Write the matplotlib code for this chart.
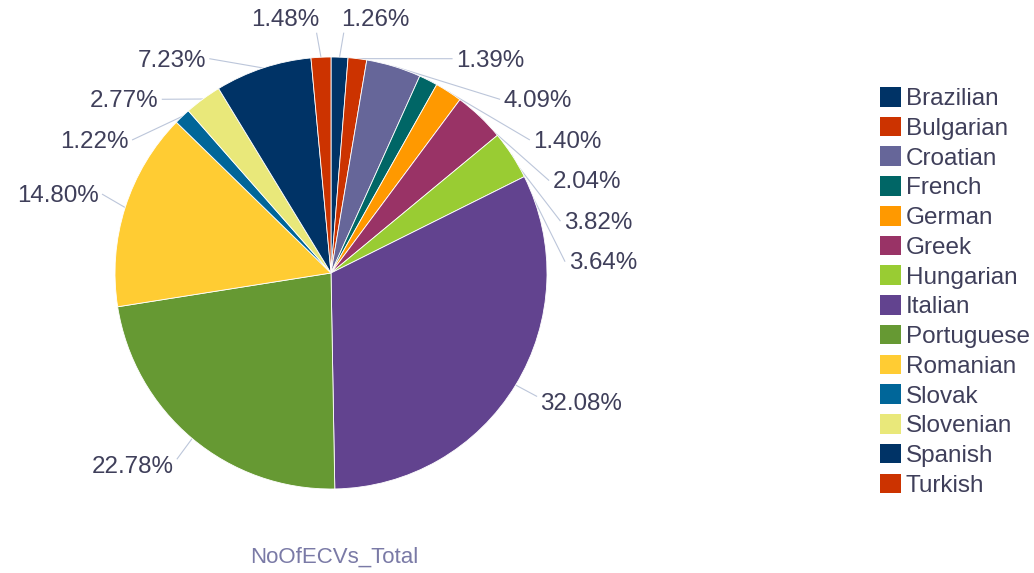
import numpy as np
import matplotlib
matplotlib.use("Agg")
import matplotlib.pyplot as plt
from matplotlib.patches import Patch

# data
categories = ["Brazilian", "Bulgarian", "Croatian", "French", "German", "Greek",
              "Hungarian", "Italian", "Portuguese", "Romanian", "Slovak",
              "Slovenian", "Spanish", "Turkish"]
shares = [1.26, 1.39, 4.09, 1.40, 2.04, 3.82, 3.64, 32.08, 22.78, 14.80,
          1.22, 2.77, 7.23, 1.48]
colors = ["#003366", "#cc3300", "#666699", "#006666", "#ff9900", "#993366",
          "#99cc33", "#62438f", "#669933", "#ffcc33", "#006699", "#e9e87a",
          "#003366", "#cc3300"]
series_name = "NoOfECVs_Total"

W, H = 1034, 573
TEXT = "#3f3f5a"
LINE = "#bcc6da"
plt.rcParams["font.family"] = ["Liberation Sans", "DejaVu Sans"]

fig = plt.figure(figsize=(W / 100, H / 100), dpi=100)
ax = fig.add_axes([0, 0, 1, 1])

# work in pixel coordinates, y pointing down
cx, cy, R = 331, 273, 216
ax.pie(shares, colors=colors, center=(cx, cy), radius=R, startangle=270,
       counterclock=True, frame=True,
       wedgeprops=dict(edgecolor="white", linewidth=0.6))
ax.set_xlim(0, W)
ax.set_ylim(H, 0)
ax.set_aspect("auto")
ax.axis("off")

# label placement: natural spot on a circle, then stacked to avoid overlap
vals = np.array(shares)
cum = np.cumsum(vals) - vals / 2
ang = np.radians(cum / vals.sum() * 360)  # clockwise from 12 o'clock
RY, GAP = 253, 40.5
EX, EY = 238, 249.5   # ellipse for labels pushed out of their natural spot
nat_y = cy - RY * np.cos(ang)
lab_y = nat_y.copy()
for side in (ang < np.pi, ang >= np.pi):
    idx = np.where(side)[0]
    idx = idx[np.argsort(nat_y[idx])]
    prev = -1e9
    for i in idx:
        lab_y[i] = max(nat_y[i], prev + GAP)
        prev = lab_y[i]

for i, a in enumerate(ang):
    s = 1 if a < np.pi else -1
    dy = lab_y[i] - cy
    if lab_y[i] == nat_y[i]:
        dx = abs(244 * np.sin(a))
    else:
        dx = EX * np.sqrt(max(1 - (dy / EY) ** 2, 0))
    lx = cx + s * dx
    ex, ey = cx + R * np.sin(a), cy - R * np.cos(a)
    if dx < 30:
        tx, ty = lx + s * 3, lab_y[i] + 13
    elif dy > 0:
        tx, ty = lx - s * 3, lab_y[i] - 8
    else:
        tx, ty = lx - s * 4, lab_y[i] - 2
    ax.plot([ex, tx], [ey, ty], color=LINE, lw=0.8, zorder=0)
    ax.text(lx, lab_y[i], f"{shares[i]:.2f}%", ha="left" if s > 0 else "right",
            va="center", fontsize=17.4, color=TEXT)

handles = [Patch(facecolor=c, edgecolor="none") for c in colors]
fig.legend(handles, categories, loc="upper left",
           bbox_to_anchor=(880 / W, 1 - 87 / H), frameon=False,
           fontsize=17.5, labelcolor=TEXT, handlelength=0.86, handleheight=0.86,
           handletextpad=0.2, labelspacing=0.27, borderpad=0, borderaxespad=0)

fig.text(334 / W, 1 - 557 / H, series_name, ha="center", va="center",
         fontsize=16, color="#7a7aa6")

fig.savefig("out.png", dpi=100)
